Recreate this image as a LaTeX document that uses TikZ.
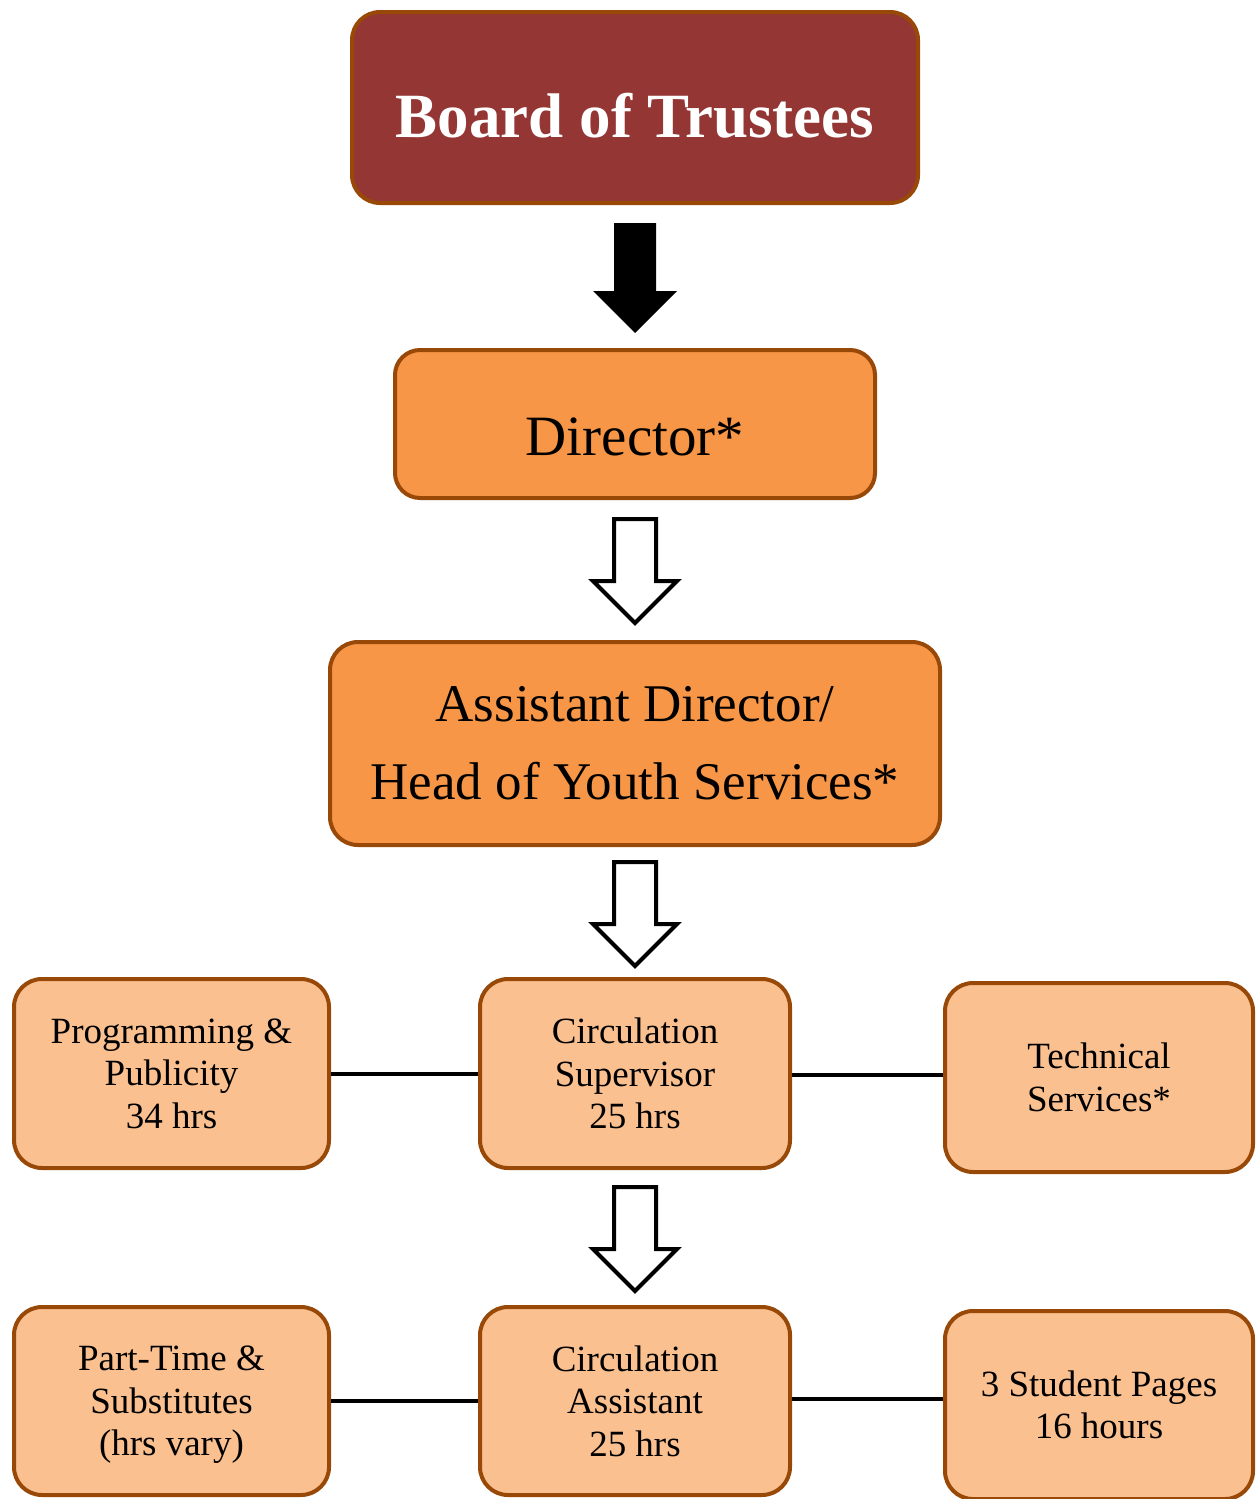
\documentclass[tikz,border=0pt]{standalone}
\usepackage{fontspec}
\setmainfont{Liberation Serif}
\usetikzlibrary{calc}
\definecolor{bordc}{RGB}{152,72,7}
\definecolor{boardfill}{RGB}{148,54,52}
\definecolor{dirfill}{RGB}{247,150,70}
\definecolor{lightfill}{RGB}{250,192,144}
\newcommand{\blkarrow}[3]{%
  \path[#3] let \p1=(#1), \p2=(#2) in
    (\x1-21pt,\y1) -- (\x1+21pt,\y1) -- (\x1+21pt,\y2+42pt) -- (\x1+42pt,\y2+42pt)
    -- (\x1,\y2) -- (\x1-42pt,\y2+42pt) -- (\x1-21pt,\y2+42pt) -- cycle;}
\begin{document}
\begin{tikzpicture}[x=1pt,y=-1pt,
  box/.style={draw=bordc, line width=4pt, rounded corners=28pt, inner sep=0pt, align=center, text=black},
  smallbox/.style={box, fill=lightfill, minimum width=315pt, minimum height=189pt,
     font=\fontsize{37}{42.5}\selectfont},
  conn/.style={line width=4pt, black},
  solidarrow/.style={fill=black},
  hollowarrow/.style={draw=black, fill=white, line width=4pt, line join=miter}]
\useasboundingbox (0,0) rectangle (1257,1499);

\node[box, fill=boardfill, text=white, minimum width=566pt, minimum height=191pt,
  font=\fontsize{63}{70}\selectfont\bfseries, text height=59pt, text depth=0pt] (board) at (635,107.5) {Board of Trustees};
\node[box, fill=dirfill, rounded corners=25pt, minimum width=480pt, minimum height=148pt,
  font=\fontsize{57}{64}\selectfont, text height=62pt, text depth=0pt] (dir) at (635,424) {Director*};
\node[box, fill=dirfill, minimum width=610pt, minimum height=203pt,
  font=\fontsize{53}{78}\selectfont] (asst) at (635,743.5) {Assistant Director/\\Head of Youth Services*};

\node[smallbox] (prog) at (171.5,1073.5) {Programming \&\\Publicity\\34 hrs};
\node[smallbox, minimum width=310pt] (csup) at (635,1073.5) {Circulation\\Supervisor\\25 hrs};
\node[smallbox, minimum width=308pt] (tech) at (1099,1077.5) {Technical\\Services*};

\node[smallbox, minimum height=188pt] (part) at (171.5,1401) {Part-Time \&\\Substitutes\\\raisebox{0pt}[\height][0pt]{(hrs vary)}};
\node[smallbox, minimum width=310pt, minimum height=188pt] (cass) at (635,1401) {Circulation\\Assistant\\25 hrs};
\node[smallbox, minimum width=308pt, minimum height=188pt] (stud) at (1099,1405) {3 Student Pages\\16 hours};

\coordinate (a1t) at ($(board.south)+(0,18)$);
\coordinate (a1b) at ($(dir.north)+(0,-15)$);
\blkarrow{a1t}{a1b}{solidarrow}
\coordinate (a2t) at ($(dir.south)+(0,19)$);
\coordinate (a2b) at ($(asst.north)+(0,-17)$);
\blkarrow{a2t}{a2b}{hollowarrow}
\coordinate (a3t) at ($(asst.south)+(0,15)$);
\coordinate (a3b) at ($(csup.north)+(0,-11)$);
\blkarrow{a3t}{a3b}{hollowarrow}
\coordinate (a4t) at ($(csup.south)+(0,17)$);
\coordinate (a4b) at ($(cass.north)+(0,-14)$);
\blkarrow{a4t}{a4b}{hollowarrow}

\draw[conn] (prog.east) -- (csup.west);
\draw[conn] ($(csup.east)+(0,1.5)$) -- ($(tech.west)+(0,-2.5)$);
\draw[conn] (part.east) -- (cass.west);
\draw[conn] ($(cass.east)+(0,-2)$) -- ($(stud.west)+(0,-6)$);
\end{tikzpicture}
\end{document}
